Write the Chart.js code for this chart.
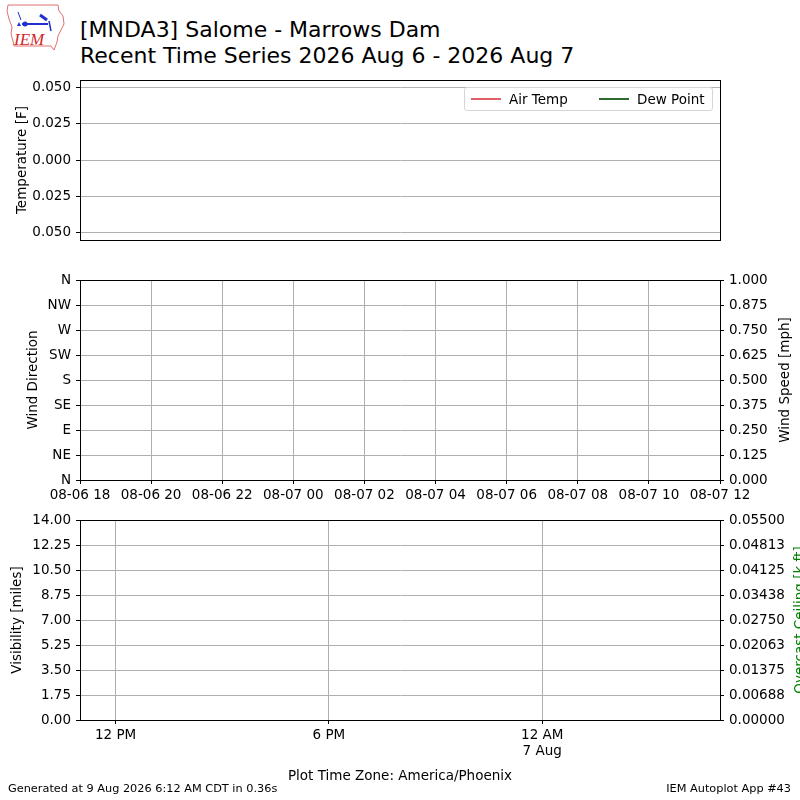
<!DOCTYPE html>
<html>
<head>
<meta charset="utf-8">
<script src="https://cdn.jsdelivr.net/npm/chart.js@4.4.1/dist/chart.umd.min.js"></script>
<style>
body { margin:0; background:#fff; }
#page { position:relative; width:800px; height:800px; overflow:hidden; font-family:'DejaVu Sans', sans-serif; color:#000; }
#page canvas { position:absolute; left:0; }
.title { position:absolute; left:80px; top:17px; font-size:22px; line-height:26px; white-space:nowrap; }
.vlabel { position:absolute; transform:translate(-50%,-50%) rotate(-90deg); white-space:nowrap; font-size:13.5px; line-height:16px; }
.foot { position:absolute; font-size:11.3px; white-space:nowrap; top:782px; }
#legend { position:absolute; left:464px; top:87px; width:247px; height:22px; border:1px solid #d6d6d6; border-radius:3px; background:rgba(255,255,255,0.8); font-size:13.5px; }
#legend .item { position:absolute; top:3px; line-height:16px; }
#legend .swatch { display:inline-block; width:30px; height:2px; vertical-align:middle; margin-right:8px; position:relative; top:-1px; }
</style>
</head>
<body>
<div id="page">
  <svg width="70" height="55" style="position:absolute;left:0;top:0">
    <path d="M8 5 L58 5 L59 11 L63 16 L64 24 L61 30 L58 36 L57 42 L54 50 L51 46 L14 46 L13 41 L11 34 L12 27 L9 19 L7 11 Z" fill="none" stroke="#e07070" stroke-width="1"/>
    <text x="14" y="45" font-family="Liberation Serif" font-style="italic" font-size="17" fill="#d02828">IEM</text>
    <line x1="22" y1="24" x2="48" y2="24" stroke="#2030d0" stroke-width="2"/>
    <circle cx="25" cy="24" r="2.5" fill="#2030d0"/>
    <line x1="18" y1="12" x2="21" y2="20" stroke="#2030d0" stroke-width="1"/>
    <line x1="40" y1="15" x2="47" y2="20" stroke="#2030d0" stroke-width="3"/>
    <line x1="49" y1="21" x2="51" y2="31" stroke="#2030d0" stroke-width="1.5"/>
    <path d="M17 26 L21 26 L19 22 Z" fill="#2030d0"/>
  </svg>
  <div class="title">[MNDA3] Salome - Marrows Dam<br>Recent Time Series 2026 Aug 6 - 2026 Aug 7</div>

  <canvas id="tempChart" width="800" height="188" style="top:67px"></canvas>
  <canvas id="windChart" width="800" height="245" style="top:265px"></canvas>
  <canvas id="visChart" width="800" height="295" style="top:505px"></canvas>

  <div id="legend"></div>
  <div class="vlabel" style="left:784px;top:380px">Wind Speed [mph]</div>
  <div class="vlabel" style="left:799px;top:620px;color:#008000">Overcast Ceiling [k ft]</div>

  <div class="foot" style="left:8px">Generated at 9 Aug 2026 6:12 AM CDT in 0.36s</div>
  <div class="foot" style="right:9px">IEM Autoplot App #43</div>
</div>

<script>
// observation times, hours after 2026-08-06 18:00 UTC (11 AM Phoenix) -- station reported nothing
const obsHours = [];
const airTemp = [];
const dewPoint = [];
const windDir = [];
const windSpeed = [];
const visibility = [];
const ceiling = [];

const tempTicks = [-0.05, -0.025, 0, 0.025, 0.05];
const tempLabels = ['0.050', '0.025', '0.000', '0.025', '0.050'];

const dirTicks = [0, 45, 90, 135, 180, 225, 270, 315, 360];
const dirLabels = ['N', 'NE', 'E', 'SE', 'S', 'SW', 'W', 'NW', 'N'];
const speedTicks = [0, 0.125, 0.25, 0.375, 0.5, 0.625, 0.75, 0.875, 1];
const speedLabels = ['0.000', '0.125', '0.250', '0.375', '0.500', '0.625', '0.750', '0.875', '1.000'];

const visTicks = [0, 1.75, 3.5, 5.25, 7, 8.75, 10.5, 12.25, 14];
const visLabels = ['0.00', '1.75', '3.50', '5.25', '7.00', '8.75', '10.50', '12.25', '14.00'];
const ceilTicks = [0, 0.006875, 0.01375, 0.020625, 0.0275, 0.034375, 0.04125, 0.048125, 0.055];
const ceilLabels = ['0.00000', '0.00688', '0.01375', '0.02063', '0.02750', '0.03438', '0.04125', '0.04813', '0.05500'];

const utcTicks = [0, 2, 4, 6, 8, 10, 12, 14, 16, 18];
const utcLabels = ['08-06 18', '08-06 20', '08-06 22', '08-07 00', '08-07 02', '08-07 04', '08-07 06', '08-07 08', '08-07 10', '08-07 12'];
const localTicks = [1, 7, 13];
const localLabels = ['12 PM', '6 PM', ['12 AM', '7 Aug']];

const timeSpan = [0, 18];

Chart.defaults.font.family = "'DejaVu Sans', sans-serif";
Chart.defaults.font.size = 13.5;
Chart.defaults.color = '#000';
Chart.defaults.animation = false;

const gridColor = '#b0b0b0';

// box around plot area, like matplotlib spines
const frame = {
  id: 'frame',
  afterDraw(chart) {
    const a = chart.chartArea, ctx = chart.ctx;
    const l = Math.round(a.left) + 0.5, t = Math.round(a.top) + 0.5;
    const r = Math.round(a.right) + 0.5, b = Math.round(a.bottom) + 0.5;
    ctx.save();
    ctx.strokeStyle = '#000';
    ctx.lineWidth = 1;
    ctx.strokeRect(l, t, r - l, b - t);
    ctx.restore();
  }
};

function series(vals) {
  return obsHours.map((h, i) => ({ x: h, y: vals[i] }));
}

function fixedAxis(opts) {
  return {
    type: 'linear',
    position: opts.position,
    display: opts.display !== false,
    min: opts.min,
    max: opts.max,
    afterBuildTicks: s => { s.ticks = opts.ticks.map(v => ({ value: v })); },
    afterFit: s => {
      if (opts.width != null) s.width = opts.width;
      if (opts.height != null) s.height = opts.height;
    },
    ticks: {
      autoSkip: false,
      maxRotation: 0,
      padding: opts.pad || 5,
      callback: (v, i) => opts.labels[i]
    },
    grid: {
      color: gridColor,
      drawOnChartArea: opts.grid !== false,
      tickColor: '#000',
      tickLength: 4
    },
    border: { color: '#000' },
    title: opts.title ? {
      display: true,
      text: opts.title,
      color: opts.titleColor || '#000',
      padding: opts.titlePad || { top: 0, bottom: 0 }
    } : { display: false }
  };
}

const tempChart = new Chart(document.getElementById('tempChart'), {
  type: 'line',
  data: {
    datasets: [
      { label: 'Air Temp', data: series(airTemp), borderColor: '#e0606a', borderWidth: 2, pointRadius: 0 },
      { label: 'Dew Point', data: series(dewPoint), borderColor: '#2e6b30', borderWidth: 2, pointRadius: 0 }
    ]
  },
  options: {
    responsive: false,
    layout: { padding: { top: 13, right: 80, bottom: 15 } },
    plugins: { legend: { display: false }, tooltip: { enabled: false } },
    scales: {
      x: { type: 'linear', display: false, min: timeSpan[0], max: timeSpan[1] },
      y: fixedAxis({ position: 'left', min: -0.055, max: 0.055, ticks: tempTicks, labels: tempLabels,
        width: 80, title: 'Temperature [F]', titlePad: { top: 14, bottom: 0 } })
    }
  },
  plugins: [frame]
});

// legend drawn inside the axes, upper right
const legendBox = document.getElementById('legend');
const legendX = [6, 134];
tempChart.data.datasets.forEach((ds, i) => {
  const item = document.createElement('div');
  item.className = 'item';
  item.style.left = legendX[i] + 'px';
  item.innerHTML = `<span class="swatch" style="background:${ds.borderColor}"></span>${ds.label}`;
  legendBox.appendChild(item);
});

new Chart(document.getElementById('windChart'), {
  type: 'scatter',
  data: {
    datasets: [
      { label: 'Wind Direction', data: series(windDir), backgroundColor: '#000', yAxisID: 'y' },
      { label: 'Wind Speed', data: series(windSpeed), borderColor: '#1f77b4', showLine: true, pointRadius: 0, yAxisID: 'y1' }
    ]
  },
  options: {
    responsive: false,
    layout: { padding: { top: 15 } },
    plugins: { legend: { display: false }, tooltip: { enabled: false } },
    scales: {
      x: fixedAxis({ position: 'bottom', min: timeSpan[0], max: timeSpan[1], ticks: utcTicks, labels: utcLabels,
        height: 30, pad: 3 }),
      y: fixedAxis({ position: 'left', min: 0, max: 360, ticks: dirTicks, labels: dirLabels,
        width: 80, title: 'Wind Direction', titlePad: { top: 25, bottom: 0 } }),
      y1: fixedAxis({ position: 'right', min: 0, max: 1, ticks: speedTicks, labels: speedLabels,
        width: 80, grid: false })
    }
  },
  plugins: [frame]
});

new Chart(document.getElementById('visChart'), {
  type: 'line',
  data: {
    datasets: [
      { label: 'Visibility', data: series(visibility), borderColor: '#000', pointRadius: 0, yAxisID: 'y' },
      { label: 'Overcast Ceiling', data: series(ceiling), borderColor: '#008000', pointRadius: 0, yAxisID: 'y1' }
    ]
  },
  options: {
    responsive: false,
    layout: { padding: { top: 15 } },
    plugins: { legend: { display: false }, tooltip: { enabled: false } },
    scales: {
      x: fixedAxis({ position: 'bottom', min: timeSpan[0], max: timeSpan[1], ticks: localTicks, labels: localLabels,
        height: 80, pad: 3, title: 'Plot Time Zone: America/Phoenix', titlePad: { top: 0, bottom: 15 } }),
      y: fixedAxis({ position: 'left', min: 0, max: 14, ticks: visTicks, labels: visLabels,
        width: 80, title: 'Visibility [miles]', titlePad: { top: 9, bottom: 0 } }),
      y1: fixedAxis({ position: 'right', min: 0, max: 0.055, ticks: ceilTicks, labels: ceilLabels,
        width: 80, grid: false })
    }
  },
  plugins: [frame]
});
</script>
</body>
</html>
